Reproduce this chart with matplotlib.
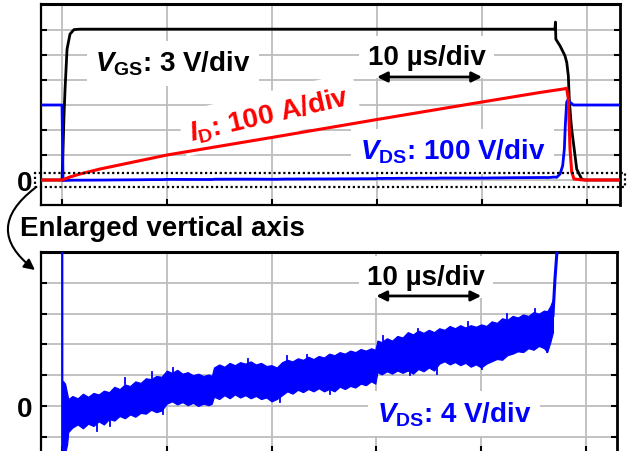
import numpy as np
import matplotlib
matplotlib.use("Agg")
import matplotlib.pyplot as plt
from matplotlib.patches import Rectangle, FancyArrowPatch

plt.rcParams['font.family'] = ['Liberation Sans', 'DejaVu Sans']
plt.rcParams['font.weight'] = 'bold'
plt.rcParams['mathtext.fontset'] = 'custom'
plt.rcParams['mathtext.rm'] = 'Liberation Sans:bold'
plt.rcParams['mathtext.it'] = 'Liberation Sans:italic:bold'
plt.rcParams['mathtext.bf'] = 'Liberation Sans:bold'

# ---- scope scale settings (per division) ----
T_DIV = 10.0        # us/div
VGS_DIV = 3.0       # V/div
ID_DIV = 100.0      # A/div
VDS_DIV = 100.0     # V/div
VDS_ZOOM_DIV = 4.0  # V/div (enlarged trace)

# ---- gate-source voltage (V) ----
t_vgs = [-2.0, 0.0, 0.1, 0.19, 0.29, 0.48, 0.76, 1.14, 1.7, 46.95, 46.99, 47.03,
         47.43, 47.9, 48.07, 48.22, 48.31, 48.45, 48.54, 48.8, 49.02, 49.5, 49.8, 53.2]
vgs = [0, 0, 3.7, 7.7, 10.9, 15.7, 17.5, 18.05, 18.1, 18.1, 18.95, 16.9,
       16.1, 14.9, 14.1, 12.5, 9.7, 7.3, 6.1, 3.5, 1.3, 0.1, 0, 0]

# ---- drain current (A) ----
t_id = [-2.0, 0.0, 0.76, 1.71, 3.62, 10.0, 20.1, 30.0, 40.0, 45.5, 47.74, 48.06,
        48.22, 48.38, 48.54, 48.76, 49.62, 53.2]
i_d = [0, 0, 12, 24, 44, 100, 171, 242, 312, 350, 364, 367,
       324, 124, 32, 4, 0, 0]

# ---- drain-source voltage (V): blocking state before turn-on ----
t_vds_pre = [-2.0, 0.0, 0.03]
vds_pre = [300, 300, -7.0]

# on-state voltage: upper / lower edge of the noisy trace (V)
t_band = [0.1, 0.3, 0.5, 0.6, 1.0, 1.5, 2.0, 2.5, 3.0, 3.5, 4.0, 4.5, 5.0, 5.5,
          6.0, 6.5, 7.0, 7.5, 8.0, 8.5, 9.0, 9.5, 10.0, 10.5, 11.0, 11.5, 12.0,
          12.5, 13.0, 13.5, 14.0, 14.3, 14.5, 15.0, 15.5, 16.0, 16.5, 17.0, 17.5,
          18.0, 18.5, 19.0, 19.5, 20.0, 20.5, 21.0, 21.5, 22.0, 22.5, 23.0, 23.5,
          24.0, 24.5, 25.0, 25.5, 26.0, 26.5, 27.0, 27.5, 28.0, 28.5, 29.0, 29.5,
          29.9, 30.1, 30.5, 31.0, 31.5, 32.0, 32.5, 33.0, 33.5, 34.0, 34.5, 35.0,
          35.5, 36.0, 36.5, 37.0, 37.5, 38.0, 38.5, 39.0, 39.5, 40.0, 40.5, 41.0,
          41.5, 42.0, 42.5, 43.0, 43.5, 44.0, 44.5, 45.0, 45.5, 46.0, 46.3, 46.6,
          46.85]
vds_upper = [3.25, 2.9, 1.6, 0.9, 1.3, 1.0, 1.6, 1.2, 1.7, 1.5, 2.0, 1.8, 2.5, 2.2,
             2.8, 2.6, 3.2, 3.0, 3.6, 3.5, 3.9, 3.8, 4.6, 4.3, 4.7, 4.2, 4.4,
             4.0, 4.2, 3.9, 4.1, 3.9, 5.0, 5.4, 5.1, 5.6, 5.3, 5.7, 5.5,
             5.8, 5.4, 5.6, 5.2, 5.3, 5.0, 5.7, 6.0, 5.8, 6.2, 6.0, 6.4,
             6.1, 6.5, 6.3, 6.8, 6.6, 7.0, 6.8, 7.2, 7.0, 7.4, 7.2, 7.5,
             7.3, 8.5, 8.3, 8.8, 8.5, 9.1, 8.9, 9.6, 9.3, 9.8, 9.5, 9.9,
             9.6, 10.1, 9.9, 10.4, 10.1, 10.5, 10.2, 10.5, 10.3, 10.6, 10.4, 11.0,
             10.8, 11.4, 11.2, 11.7, 11.5, 11.9, 11.7, 12.2, 12.0, 12.4, 12.3, 13.0,
             13.9]
vds_lower = [-6.9, -6.2, -4.9, -3.4, -2.8, -2.4, -2.9, -2.3, -2.6, -2.0, -2.4, -1.7, -1.9, -1.3,
             -1.6, -1.1, -1.4, -0.9, -1.0, -0.5, -0.8, -0.6, 0.3, 0.6, 0.2, 0.5, 0.1,
             0.4, 0.0, 0.3, 0.1, 0.3, 1.2, 0.9, 1.4, 1.0, 1.5, 1.1, 1.4,
             1.0, 1.3, 0.9, 1.1, 0.6, 0.9, 1.4, 1.9, 1.6, 2.1, 1.8, 2.2,
             1.9, 2.3, 1.9, 2.2, 1.9, 2.5, 2.2, 2.6, 2.4, 2.9, 2.7, 3.2,
             2.9, 4.4, 4.1, 4.5, 4.2, 4.6, 4.3, 4.6, 4.2, 4.8, 4.5, 5.0,
             4.6, 5.5, 5.8, 5.4, 5.7, 5.3, 5.6, 5.1, 5.4, 5.0, 5.5, 5.8,
             6.1, 6.0, 6.6, 6.8, 7.1, 7.0, 7.5, 7.3, 7.8, 7.5, 7.0, 8.3,
             9.6]

# ringing spikes on the on-state trace: (time, from, to) in V
spikes_up = [(6.01, 2.9, 3.6), (8.59, 3.6, 4.42), (10.59, 4.2, 4.9), (17.75, 5.5, 6.1),
             (21.47, 5.6, 6.49), (23.38, 5.9, 6.6), (30.63, 8.4, 9.1), (33.97, 9.4, 10.0),
             (38.74, 10.2, 10.91), (42.46, 11.3, 11.9), (45.13, 12.0, 12.6)]
spikes_down = [(3.34, -1.8, -3.25), (4.58, -1.6, -2.6), (9.64, -0.4, -1.04),
               (20.8, 1.0, 0.52), (25.57, 2.0, 1.5), (33.2, 4.5, 4.0),
               (35.78, 5.0, 4.16), (40.08, 5.3, 4.81), (46.28, 7.6, 7.0)]

# turn-off rise (V)
t_rise = [46.85, 47.04, 47.23, 47.45]
vds_rise = [11.75, 16.5, 20.0, 30.0]
t_off = [47.11, 47.43, 47.68, 47.84, 47.93, 48.06, 48.22, 48.38, 48.70, 53.2]
vds_off = [10.7, 24, 57, 124, 217, 311, 324, 311, 300, 300]

W, H = 628, 452
fig = plt.figure(figsize=(W / 100, H / 100), dpi=100)


def fig_box(left, top, right, bottom):
    return [left / W, 1 - bottom / H, (right - left) / W, (bottom - top) / H]


ax1 = fig.add_axes(fig_box(41, 5, 620, 206))
ax2 = fig.add_axes(fig_box(41, 253, 617, 453.2))

GRID = '#bdbdbd'
for ax in (ax1, ax2):
    ax.set_axisbelow(True)
    ax.grid(True, color=GRID, lw=1.3)
    ax.tick_params(direction='in', length=4.5, width=1.5, colors='k',
                   left=True, right=True, bottom=True, top=False,
                   labelbottom=False, labelsize=20, pad=6)
    for s in ax.spines.values():
        s.set_linewidth(1.6)
    ax.spines['top'].set_linewidth(2.2)
    ax.spines['right'].set_linewidth(2.0)
    ax.set_xticks(np.arange(0, 51, T_DIV))

# ---- upper panel: all traces in divisions ----
ax1.set_xlim(-2.0, 53.14)
ax1.set_ylim(-1.0, 7.04)
ax1.set_yticks(range(0, 7), ['0', '', '', '', '', '', ''])

t_band_a = np.array(t_band)
vds_mid = (np.array(vds_upper) + np.array(vds_lower)) / 2
t_vds_top = np.concatenate([t_vds_pre[:2], t_band_a, t_off])
vds_top = np.concatenate([vds_pre[:2], vds_mid, vds_off])

ax1.plot(t_vgs, np.array(vgs) / VGS_DIV, color='black', lw=2.0, zorder=2)
ax1.plot(t_vds_top, vds_top / VDS_DIV, color='#0000ff', lw=2.0, zorder=3)
ax1.plot(t_id, np.array(i_d) / ID_DIV, color='#ff0000', lw=2.2, zorder=6)

box = dict(boxstyle='square,pad=0.3', fc='white', ec='none')
ax1.text(3.14, 4.36, r'$V_{\mathrm{GS}}$: 3 V/div', ha='left', va='baseline',
         fontsize=20, color='black', bbox=box, zorder=5)
ax1.text(34.71, 4.64, '10 µs/div', ha='center', va='baseline',
         fontsize=20, color='black', bbox=box, zorder=5)
ax1.annotate('', xy=(40, 4.12), xytext=(30, 4.12),
             arrowprops=dict(arrowstyle='<|-|>', lw=2, color='black',
                             mutation_scale=15, shrinkA=0, shrinkB=0), zorder=7)
ax1.text(19.9, 2.32, r'$I_{\mathrm{D}}$: 100 A/div', ha='center', va='baseline',
         rotation=13, rotation_mode='anchor', fontsize=20, color='#ff0000',
         bbox=box, zorder=5)
ax1.text(37.19, 0.84, r'$V_{\mathrm{DS}}$: 100 V/div', ha='center', va='baseline',
         fontsize=20, color='#0000ff', bbox=box, zorder=5)

# dotted window marking the enlarged region
ax1.add_patch(Rectangle((-2.57, -0.26), 56.19, 0.56, fill=False, ec='black',
                        lw=1.6, ls=(0, (1, 1.2)), clip_on=False, zorder=8))

# ---- lower panel: enlarged VDS in volts ----
ax2.set_xlim(-2.0, 52.96)
ax2.set_ylim(-1.5 * VDS_ZOOM_DIV, 5 * VDS_ZOOM_DIV)
yt = np.arange(-1, 5) * VDS_ZOOM_DIV
ax2.set_yticks(yt, ['0' if v == 0 else '' for v in yt])

blue = '#0000ff'
ax2.plot(t_vds_pre, vds_pre, color=blue, lw=1.6, zorder=3)
ax2.fill_between(t_band, vds_lower, vds_upper, color=blue, lw=0.8, zorder=3)
for t, a, b in spikes_up + spikes_down:
    ax2.plot([t, t], [a, b], color=blue, lw=1.3, zorder=3)
ax2.plot(t_rise, vds_rise, color=blue, lw=2.2, zorder=3)

ax2.text(34.73, 15.84, '10 µs/div', ha='center', va='baseline',
         fontsize=20, color='black', bbox=box, zorder=5)
ax2.annotate('', xy=(40, 14.29), xytext=(30, 14.29),
             arrowprops=dict(arrowstyle='<|-|>', lw=2, color='black',
                             mutation_scale=15, shrinkA=0, shrinkB=0), zorder=7)
ax2.text(37.4, -1.95, r'$V_{\mathrm{DS}}$: 4 V/div', ha='center', va='baseline',
         fontsize=20, color=blue, bbox=box, zorder=5)

# ---- caption and pointer between panels ----
fig.text(20 / W, 1 - 236 / H, 'Enlarged vertical axis', ha='left', va='baseline',
         fontsize=20, color='black')
arrow = FancyArrowPatch((35 / W, 1 - 189 / H), (35 / W, 1 - 271 / H),
                        transform=fig.transFigure, connectionstyle='arc3,rad=0.65',
                        arrowstyle='-|>', mutation_scale=16, lw=1.5, color='black',
                        shrinkA=0, shrinkB=0)
fig.patches.append(arrow)

fig.savefig('out.png', dpi=100)
